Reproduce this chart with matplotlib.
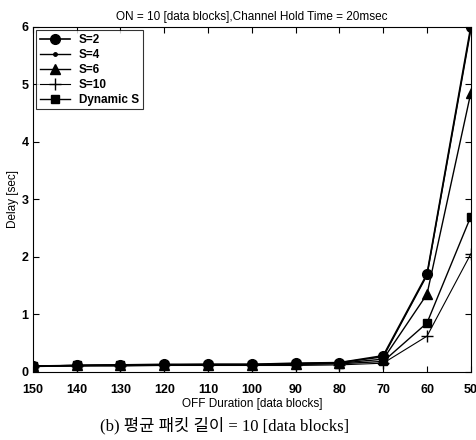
import matplotlib.pyplot as plt
import numpy as np

off = [150, 140, 130, 120, 110, 100, 90, 80, 70, 60, 50]
s2 = [0.10, 0.11, 0.12, 0.13, 0.13, 0.13, 0.15, 0.16, 0.28, 1.70, 6.00]
s4 = [0.10, 0.11, 0.12, 0.12, 0.13, 0.13, 0.14, 0.16, 0.26, 1.68, 5.95]
s6 = [0.10, 0.11, 0.11, 0.12, 0.12, 0.12, 0.13, 0.15, 0.22, 1.35, 4.85]
s10 = [0.09, 0.10, 0.10, 0.11, 0.11, 0.11, 0.11, 0.12, 0.15, 0.62, 2.05]
dyn = [0.10, 0.11, 0.12, 0.12, 0.12, 0.12, 0.13, 0.14, 0.18, 0.85, 2.70]

fig = plt.figure(figsize=(4.77, 4.40), dpi=100)
ax = fig.add_axes([0.069, 0.155, 0.918, 0.784])

ax.plot(off, s2, "k-", marker="o", markersize=7, linewidth=1.2, label="S=2")
ax.plot(off, s4, "k-", marker=".", markersize=5, linewidth=1.0, label="S=4")
ax.plot(off, s6, "k-", marker="^", markersize=7, linewidth=1.0, label="S=6")
ax.plot(off, s10, "k-", marker="+", markersize=8, linewidth=0.8, label="S=10")
ax.plot(off, dyn, "k-", marker="s", markersize=6, linewidth=1.0, label="Dynamic S")

ax.set_xlim(150, 50)
ax.set_ylim(0, 6)
ax.set_xticks(off)
ax.set_yticks([0, 1, 2, 3, 4, 5, 6])
ax.tick_params(direction="in", top=True, right=True, length=4)
ax.tick_params(axis="x", pad=9)
ax.tick_params(axis="y", pad=3)
for lab in ax.get_xticklabels() + ax.get_yticklabels():
    lab.set_fontfamily("Liberation Sans")
    lab.set_fontweight("bold")
    lab.set_fontsize(9)

ax.set_title("ON = 10 [data blocks],Channel Hold Time = 20msec",
             fontsize=8.5, family="Liberation Sans", pad=5)
ax.set_xlabel("OFF Duration [data blocks]", fontsize=8.5,
              family="Liberation Sans", labelpad=1)
ax.set_ylabel("Delay [sec]", fontsize=8.5, family="Liberation Sans", labelpad=2)

leg = ax.legend(loc="upper left", frameon=True, fancybox=False,
                edgecolor="black", borderaxespad=0.3, handlelength=2.5,
                labelspacing=0.25, borderpad=0.3,
                prop={"family": "Liberation Sans", "weight": "bold", "size": 8.5})
leg.get_frame().set_linewidth(0.8)

fig.text(0.47, 0.022, "(b) 평균 패킷 길이 = 10 [data blocks]", ha="center",
         fontsize=12, family=["Liberation Serif", "Noto Sans CJK KR"])

fig.savefig("out.png", dpi=100)
